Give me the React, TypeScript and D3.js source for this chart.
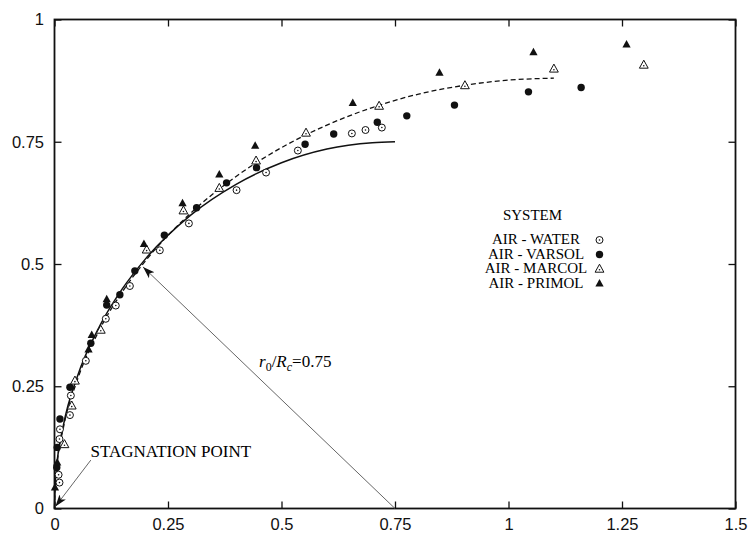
import React, { useEffect, useRef } from 'react';
import * as d3 from 'd3';

const width = 753;
const height = 533;

// x / y (dimensionless)
const water: [number, number][] = [
  [0.011, 0.053], [0.009, 0.069], [0.011, 0.142], [0.012, 0.162], [0.034, 0.191],
  [0.036, 0.231], [0.069, 0.302], [0.113, 0.388], [0.135, 0.415], [0.166, 0.455],
  [0.232, 0.528], [0.296, 0.583], [0.401, 0.651], [0.466, 0.687], [0.536, 0.732],
  [0.655, 0.767], [0.685, 0.774], [0.721, 0.779],
];
const varsol: [number, number][] = [
  [0.005, 0.084], [0.006, 0.125], [0.012, 0.183], [0.034, 0.248], [0.080, 0.338],
  [0.115, 0.416], [0.144, 0.437], [0.177, 0.486], [0.242, 0.559], [0.313, 0.615],
  [0.379, 0.666], [0.445, 0.697], [0.552, 0.745], [0.615, 0.766], [0.711, 0.790],
  [0.776, 0.803], [0.881, 0.825], [1.044, 0.852], [1.160, 0.861],
];
const marcol: [number, number][] = [
  [0.022, 0.131], [0.038, 0.21], [0.045, 0.261], [0.102, 0.365], [0.203, 0.529],
  [0.284, 0.609], [0.363, 0.655], [0.444, 0.711], [0.554, 0.768], [0.715, 0.823],
  [0.904, 0.865], [1.100, 0.899], [1.298, 0.907],
];
const primol: [number, number][] = [
  [0.001, 0.043], [0.006, 0.094], [0.075, 0.325], [0.082, 0.355], [0.115, 0.428],
  [0.197, 0.541], [0.282, 0.624], [0.363, 0.683], [0.442, 0.742], [0.657, 0.829],
  [0.848, 0.891], [1.055, 0.933], [1.260, 0.949],
];

// model curves, points
const solidX = [0, 0.001, 0.005, 0.02, 0.05, 0.1, 0.15, 0.2, 0.3, 0.4, 0.5, 0.6, 0.7, 0.75];
const solidY = [0, 0.039, 0.087, 0.172, 0.269, 0.374, 0.45, 0.51, 0.6, 0.663, 0.707, 0.735, 0.748, 0.75];
const dashedX = [0, 0.001, 0.005, 0.02, 0.05, 0.1, 0.15, 0.2, 0.3, 0.4, 0.5, 0.6, 0.7, 0.8, 0.9, 1.0, 1.1];
const dashedY = [0, 0.038, 0.084, 0.167, 0.262, 0.367, 0.444, 0.506, 0.604, 0.679, 0.738, 0.784, 0.82, 0.847, 0.865, 0.876, 0.88];

const xTicks = [0, 0.25, 0.5, 0.75, 1, 1.25, 1.5];
const yTicks = [0, 0.25, 0.5, 0.75, 1];

const legendLabels = ['AIR - WATER', 'AIR - VARSOL', 'AIR - MARCOL', 'AIR - PRIMOL'];

// annotation arrows: [from, to]
const radiusArrow: [number, number][] = [[0.75, 0], [0.195, 0.494]];
const stagnationArrow: [number, number][] = [[0.08, 0.099], [0.002, 0.004]];

const serif = '"Liberation Serif", "Times New Roman", serif';
const sans = '"Liberation Sans", Arial, sans-serif';

export default function App() {
  const ref = useRef<SVGSVGElement>(null);

  useEffect(() => {
    const svg = d3.select(ref.current);
    svg.selectAll('*').remove();

    const xScale = d3.scaleLinear().domain([0, 1.5]).range([54.5, 735.5]);
    const yScale = d3.scaleLinear().domain([0, 1]).range([508.5, 19.5]);
    const fmt = (d: any) => String(d);

    svg.append('defs').append('marker')
      .attr('id', 'head')
      .attr('viewBox', '0 -5 12 10')
      .attr('refX', 12).attr('refY', 0)
      .attr('markerWidth', 12).attr('markerHeight', 10)
      .attr('markerUnits', 'userSpaceOnUse')
      .attr('orient', 'auto')
      .append('path')
      .attr('d', 'M12,0 L0,-4 L3,0 L0,4 Z')
      .attr('fill', '#111');

    // axes, ticks point inward
    const xAxisG = svg.append('g').attr('transform', `translate(0,${yScale(0)})`)
      .call(d3.axisBottom(xScale).tickValues(xTicks).tickSize(-7).tickPadding(10).tickFormat(fmt));
    const yAxisG = svg.append('g').attr('transform', `translate(${xScale(0)},0)`)
      .call(d3.axisLeft(yScale).tickValues(yTicks).tickSize(-7).tickPadding(10.5).tickFormat(fmt));
    const topG = svg.append('g').attr('transform', `translate(0,${yScale(1)})`)
      .call(d3.axisTop(xScale).tickValues(xTicks).tickSize(-7).tickFormat(() => ''));
    const rightG = svg.append('g').attr('transform', `translate(${xScale(1.5)},0)`)
      .call(d3.axisRight(yScale).tickValues(yTicks).tickSize(-7).tickFormat(() => ''));

    [xAxisG, yAxisG, topG, rightG].forEach(g => {
      g.select('.domain').remove();
      g.selectAll('line').attr('stroke', '#111').attr('stroke-width', 1.3);
      g.selectAll('text').attr('font-family', sans).attr('font-size', 16.5).attr('fill', '#111');
    });

    svg.append('rect')
      .attr('x', xScale(0)).attr('y', yScale(1))
      .attr('width', xScale(1.5) - xScale(0)).attr('height', yScale(0) - yScale(1))
      .attr('fill', 'none').attr('stroke', '#111').attr('stroke-width', 1.8);

    // model curves
    const solidLine = d3.line<number>()
      .x(d => xScale(solidX[d]))
      .y(d => yScale(solidY[d]))
      .curve(d3.curveMonotoneX);
    svg.append('path')
      .attr('d', solidLine(d3.range(solidX.length)))
      .attr('fill', 'none').attr('stroke', '#111').attr('stroke-width', 1.5);

    const dashedLine = d3.line<number>()
      .x(d => xScale(dashedX[d]))
      .y(d => yScale(dashedY[d]))
      .curve(d3.curveMonotoneX);
    svg.append('path')
      .attr('d', dashedLine(d3.range(dashedX.length)))
      .attr('fill', 'none').attr('stroke', '#111').attr('stroke-width', 1.3)
      .attr('stroke-dasharray', '5,3');

    // annotation arrows
    [radiusArrow, stagnationArrow].forEach(a => {
      svg.append('line')
        .attr('x1', xScale(a[0][0])).attr('y1', yScale(a[0][1]))
        .attr('x2', xScale(a[1][0])).attr('y2', yScale(a[1][1]))
        .attr('stroke', '#555').attr('stroke-width', 0.9)
        .attr('marker-end', 'url(#head)');
    });

    // markers
    const tri = (s: number) => `M0,${-s * 0.6} L${s * 0.55},${s * 0.4} L${-s * 0.55},${s * 0.4} Z`;

    const pts = svg.append('g');
    const drawWater = (g: any, x: number, y: number) => {
      g.append('circle').attr('cx', x).attr('cy', y).attr('r', 3.5)
        .attr('fill', '#fff').attr('stroke', '#111').attr('stroke-width', 1);
      g.append('circle').attr('cx', x).attr('cy', y).attr('r', 0.8).attr('fill', '#111');
    };
    const drawVarsol = (g: any, x: number, y: number) => {
      g.append('circle').attr('cx', x).attr('cy', y).attr('r', 3.7).attr('fill', '#111');
    };
    const drawMarcol = (g: any, x: number, y: number) => {
      g.append('path').attr('transform', `translate(${x},${y})`).attr('d', tri(8))
        .attr('fill', '#fff').attr('stroke', '#111').attr('stroke-width', 1);
      g.append('circle').attr('cx', x).attr('cy', y + 0.8).attr('r', 0.8).attr('fill', '#111');
    };
    const drawPrimol = (g: any, x: number, y: number) => {
      g.append('path').attr('transform', `translate(${x},${y})`).attr('d', tri(7.5))
        .attr('fill', '#111');
    };
    const drawers = [drawWater, drawVarsol, drawMarcol, drawPrimol];

    [water, varsol, marcol, primol].forEach((series, k) => {
      series.forEach(d => drawers[k](pts, xScale(d[0]), yScale(d[1])));
    });

    // legend
    svg.append('text')
      .attr('x', 532.5).attr('y', 219.5)
      .attr('text-anchor', 'middle')
      .attr('font-family', serif).attr('font-size', 15)
      .text('SYSTEM');
    legendLabels.forEach((label, i) => {
      const ly = 244 + i * 14.5;
      svg.append('text')
        .attr('x', 536).attr('y', ly)
        .attr('text-anchor', 'middle')
        .attr('font-family', serif).attr('font-size', 15)
        .text(label);
      drawers[i](svg, 599.5, ly - 4);
    });

    // STAGNATION POINT label
    svg.append('text')
      .attr('x', 90.5).attr('y', 456.5)
      .attr('font-family', serif).attr('font-size', 17)
      .text('STAGNATION POINT');

    // r0/Rc label
    const t = svg.append('text')
      .attr('x', 259).attr('y', 366.5)
      .attr('font-family', serif).attr('font-size', 17);
    t.append('tspan').attr('font-style', 'italic').text('r');
    t.append('tspan').attr('font-size', 12).attr('dy', 4).text('0');
    t.append('tspan').attr('dy', -4).text('/');
    t.append('tspan').attr('font-style', 'italic').text('R');
    t.append('tspan').attr('font-size', 12).attr('font-style', 'italic').attr('dy', 4).text('c');
    t.append('tspan').attr('dy', -4).text('=0.75');
  }, []);

  return (
    <svg
      ref={ref}
      width={width}
      height={height}
      style={{ position: 'absolute', left: 0, top: 0, background: '#fff' }}
    />
  );
}
